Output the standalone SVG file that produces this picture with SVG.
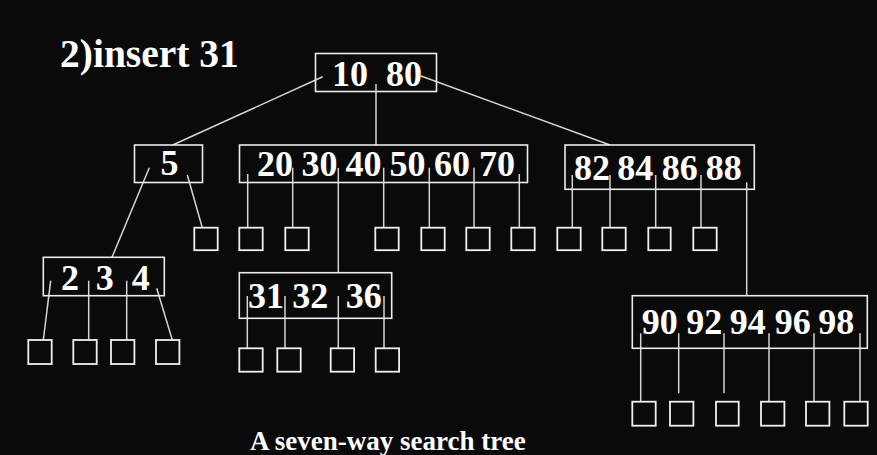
<svg xmlns="http://www.w3.org/2000/svg" width="877" height="455" viewBox="0 0 877 455">
<style>
.bg{fill:#0a0a0a}
.node{fill:none;stroke:#ececec;stroke-width:1.6}
.leaf{fill:none;stroke:#f0f0f0;stroke-width:1.8}
.k{font-family:"Liberation Serif","Times New Roman",serif;font-weight:bold;font-size:36px;fill:#ffffff}
.ttl{font-family:"Liberation Serif","Times New Roman",serif;font-weight:bold;fill:#ffffff}
.edges line{stroke:#d4d4d4;stroke-width:1.5}
</style>
<rect class="bg" x="0" y="0" width="877" height="455"/>
<text class="ttl" x="60" y="67" font-size="39.5">2)insert 31</text>
<text class="ttl" x="250" y="450" font-size="27">A seven-way search tree</text>

<g id="connectors" class="edges">
<line x1="322.7" y1="76.7" x2="172.7" y2="145"/>
<line x1="376" y1="84" x2="376" y2="145"/>
<line x1="421" y1="76" x2="610" y2="145"/>
<line x1="149.3" y1="167.7" x2="112" y2="257.3"/>
<line x1="187.3" y1="175" x2="202.3" y2="227.7"/>
<line x1="247.7" y1="174" x2="247.7" y2="227.7"/>
<line x1="292.7" y1="167.7" x2="292.7" y2="227.7"/>
<line x1="338.3" y1="168" x2="338.3" y2="272.7"/>
<line x1="383.7" y1="167.7" x2="383.7" y2="227.7"/>
<line x1="429.3" y1="167.7" x2="429.3" y2="227.7"/>
<line x1="474" y1="167.7" x2="474" y2="227.7"/>
<line x1="519.3" y1="174" x2="519.3" y2="227.7"/>
<line x1="572.3" y1="175" x2="572.3" y2="227.7"/>
<line x1="610" y1="175" x2="610" y2="227.7"/>
<line x1="655.7" y1="175" x2="655.7" y2="227.7"/>
<line x1="701" y1="175" x2="701" y2="227.7"/>
<line x1="746.7" y1="182.3" x2="746.7" y2="295.7"/>
<line x1="50.7" y1="280.7" x2="43.3" y2="340"/>
<line x1="88.7" y1="280.7" x2="88.7" y2="340"/>
<line x1="126.7" y1="280.7" x2="126.7" y2="340"/>
<line x1="156.7" y1="288.3" x2="172.3" y2="340"/>
<line x1="247.3" y1="296" x2="247.3" y2="348.3"/>
<line x1="285" y1="296" x2="285" y2="348.3"/>
<line x1="338.3" y1="296" x2="338.3" y2="348.3"/>
<line x1="384" y1="296" x2="384" y2="348.3"/>
<line x1="640.7" y1="333.3" x2="640.7" y2="401.7"/>
<line x1="678.7" y1="333.3" x2="678.7" y2="393.3"/>
<line x1="724" y1="333.3" x2="724" y2="393.3"/>
<line x1="769" y1="333.3" x2="769" y2="401.7"/>
<line x1="814" y1="333.3" x2="814" y2="401.7"/>
<line x1="860" y1="333.3" x2="860" y2="401.7"/>
</g>

<g id="n-root">
<rect class="node" x="315.5" y="53.5" width="121" height="38"/>
<text class="k" x="332" y="86">10</text>
<text class="k" x="386" y="86">80</text>
</g>

<g id="n-5">
<rect class="node" x="134.5" y="145" width="68" height="37.5"/>
<text class="k" x="160.5" y="175">5</text>
</g>

<g id="n-20-70">
<rect class="node" x="239.5" y="145" width="288" height="37.5"/>
<text class="k" x="257" y="175.5">20</text>
<text class="k" x="301.5" y="175.5">30</text>
<text class="k" x="345.5" y="175.5">40</text>
<text class="k" x="389.5" y="175.5">50</text>
<text class="k" x="434" y="175.5">60</text>
<text class="k" x="479" y="175.5">70</text>
</g>

<g id="n-82-88">
<rect class="node" x="565" y="145" width="189.3" height="44.3"/>
<text class="k" x="574" y="180">82</text>
<text class="k" x="617.3" y="180">84</text>
<text class="k" x="661.7" y="180">86</text>
<text class="k" x="705.7" y="180">88</text>
</g>

<g id="n-2-4">
<rect class="node" x="43.3" y="257.3" width="121" height="38.4"/>
<text class="k" x="61" y="290">2</text>
<text class="k" x="95.7" y="290">3</text>
<text class="k" x="131.7" y="290">4</text>
</g>

<g id="n-31-36">
<rect class="node" x="239.3" y="272.7" width="152.4" height="45.6"/>
<text class="k" x="248" y="308.3">31</text>
<text class="k" x="292.3" y="308.3">32</text>
<text class="k" x="345.7" y="308.3">36</text>
</g>

<g id="n-90-98">
<rect class="node" x="632.3" y="295.7" width="235" height="52.6"/>
<text class="k" x="641.7" y="334">90</text>
<text class="k" x="686.3" y="334">92</text>
<text class="k" x="729.7" y="334">94</text>
<text class="k" x="774.7" y="334">96</text>
<text class="k" x="818.3" y="334">98</text>
</g>

<g id="leaves">
<rect class="leaf" x="194.3" y="227.7" width="23.4" height="22.5"/>
<rect class="leaf" x="239.3" y="227.7" width="23.4" height="22.5"/>
<rect class="leaf" x="285.3" y="227.7" width="23.4" height="22.5"/>
<rect class="leaf" x="375.3" y="227.7" width="23.4" height="22.5"/>
<rect class="leaf" x="421.3" y="227.7" width="23.4" height="22.5"/>
<rect class="leaf" x="466.3" y="227.7" width="23.4" height="22.5"/>
<rect class="leaf" x="511.3" y="227.7" width="23.4" height="22.5"/>
<rect class="leaf" x="557.3" y="227.7" width="23.4" height="22.5"/>
<rect class="leaf" x="602.3" y="227.7" width="23.4" height="22.5"/>
<rect class="leaf" x="648.3" y="227.7" width="22.4" height="22.5"/>
<rect class="leaf" x="693.3" y="227.7" width="23.4" height="22.5"/>
<rect class="leaf" x="28.3" y="340" width="23.4" height="24"/>
<rect class="leaf" x="73.3" y="340" width="23.4" height="24"/>
<rect class="leaf" x="111" y="340" width="23.4" height="24"/>
<rect class="leaf" x="156" y="340" width="23.4" height="24"/>
<rect class="leaf" x="239.3" y="348.3" width="23.4" height="23.4"/>
<rect class="leaf" x="277.3" y="348.3" width="23.4" height="23.4"/>
<rect class="leaf" x="330.7" y="348.3" width="23.4" height="23.4"/>
<rect class="leaf" x="375.7" y="348.3" width="23.4" height="23.4"/>
<rect class="leaf" x="632.3" y="401.7" width="23.4" height="24"/>
<rect class="leaf" x="670" y="401.7" width="23.4" height="24"/>
<rect class="leaf" x="716" y="401.7" width="22.7" height="24"/>
<rect class="leaf" x="761" y="401.7" width="23.4" height="24"/>
<rect class="leaf" x="806" y="401.7" width="23.4" height="24"/>
<rect class="leaf" x="844.3" y="401.7" width="23.4" height="24"/>
</g>
</svg>
